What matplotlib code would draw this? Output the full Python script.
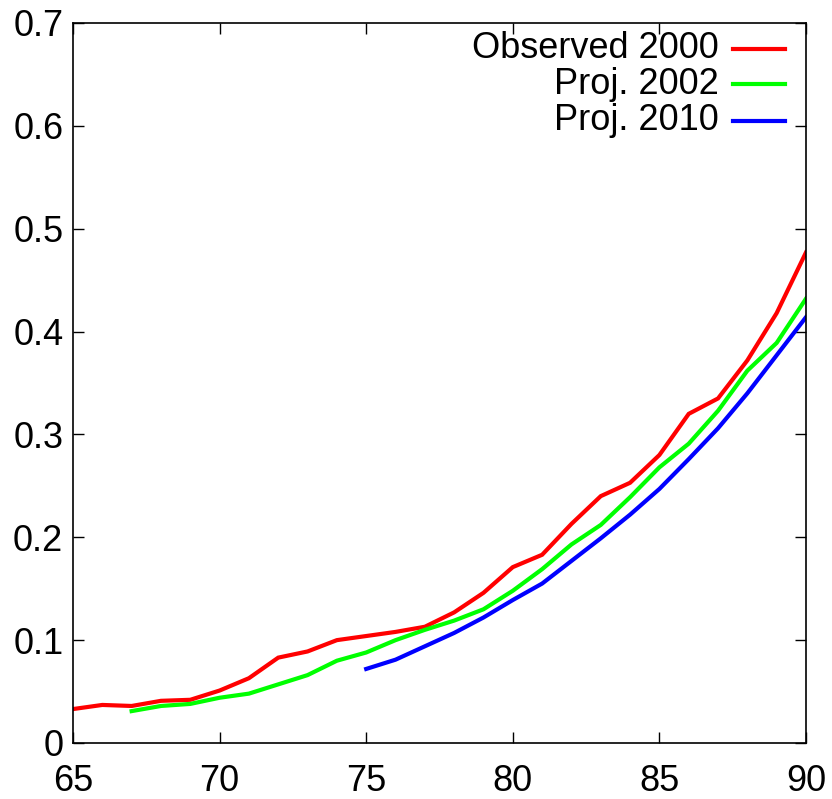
import matplotlib
matplotlib.use("Agg")
import matplotlib.pyplot as plt
from matplotlib.lines import Line2D

plt.rcParams['font.family'] = ['Liberation Sans', 'DejaVu Sans']

ages_obs = list(range(65, 91))
obs_2000 = [0.033, 0.037, 0.036, 0.041, 0.042, 0.051, 0.063, 0.083, 0.089, 0.100,
            0.104, 0.108, 0.113, 0.127, 0.146, 0.171, 0.183, 0.213, 0.240, 0.253,
            0.280, 0.320, 0.335, 0.372, 0.418, 0.477]

ages_p02 = list(range(67, 91))
proj_2002 = [0.031, 0.036, 0.038, 0.044, 0.048, 0.057, 0.066, 0.080, 0.088, 0.100,
             0.110, 0.119, 0.130, 0.148, 0.169, 0.193, 0.212, 0.239, 0.268, 0.291,
             0.323, 0.362, 0.389, 0.432]

ages_p10 = list(range(75, 91))
proj_2010 = [0.072, 0.081, 0.094, 0.107, 0.122, 0.139, 0.155, 0.177, 0.199, 0.222,
             0.247, 0.276, 0.306, 0.340, 0.377, 0.414]

labels = ["Observed 2000", "Proj. 2002", "Proj. 2010"]
colors = ["#ff0000", "#00ff00", "#0000ff"]

fig = plt.figure(figsize=(8.32, 7.99), dpi=100)
ax = fig.add_axes([73/832, 56/799, (806-73)/832, (743-23)/799])

series = [(ages_obs, obs_2000), (ages_p02, proj_2002), (ages_p10, proj_2010)]
for (x, y), c in zip(series, colors):
    ax.plot(x, y, color=c, lw=3, solid_joinstyle='miter')

ax.set_xlim(65, 90)
ax.set_ylim(0, 0.7)
ax.set_xticks([65, 70, 75, 80, 85, 90])
ax.set_yticks([0, 0.1, 0.2, 0.3, 0.4, 0.5, 0.6, 0.7])
ax.set_yticklabels(["0", "0.1", "0.2", "0.3", "0.4", "0.5", "0.6", "0.7"])
ax.tick_params(direction='in', length=8, width=1, top=True, right=True,
               labelsize=26)
ax.tick_params(axis='x', pad=15)
ax.tick_params(axis='y', pad=7)
for s in ax.spines.values():
    s.set_linewidth(1.2)

# legend (gnuplot style: right aligned text, sample on right)
ys = [49, 84, 121]
for lab, c, yp in zip(labels, colors, ys):
    yf = 1 - (yp - 23) / (743 - 23)
    xt = (719 - 73) / (806 - 73)
    ax.text(xt, yf, lab, transform=ax.transAxes, ha='right', va='center',
            fontsize=26)
    x0 = (733 - 73) / (806 - 73)
    x1 = (785 - 73) / (806 - 73)
    ax.add_line(Line2D([x0, x1], [yf, yf], transform=ax.transAxes, color=c, lw=3))

fig.savefig("out.png", dpi=100)
